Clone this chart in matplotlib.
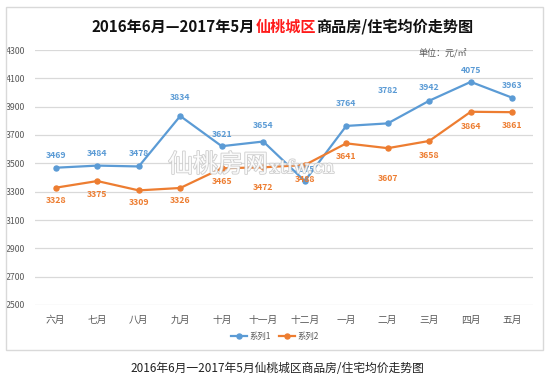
import matplotlib
matplotlib.use("Agg")
import matplotlib.pyplot as plt
import matplotlib.patheffects as pe
from matplotlib.patches import Rectangle

plt.rcParams['font.family'] = ['Noto Sans CJK SC', 'DejaVu Sans']

months = ['六月', '七月', '八月', '九月', '十月', '十一月', '十二月', '一月', '二月', '三月', '四月', '五月']
series1 = [3469, 3484, 3478, 3834, 3621, 3654, 3375, 3764, 3782, 3942, 4075, 3963]
series2 = [3328, 3375, 3309, 3326, 3465, 3472, 3488, 3641, 3607, 3658, 3864, 3861]
series_names = ['系列1', '系列2']
yticks = list(range(2500, 4301, 200))

title_parts = [('2016年6月—2017年5月', '#111111'), ('仙桃城区', '#ff1a1a'), ('商品房/住宅均价走势图', '#111111')]
unit_text = '单位：元/㎡'
caption = '2016年6月一2017年5月仙桃城区商品房/住宅均价走势图'

# label offsets in pixels (style)
off1 = [12, 12, 13, 19, 12, 16, 12, 22, 33, 13, 11, 12]
off2 = [13, 13, 12, 13, 13, 20, 14, 13, 30, 15, 15, 13]

c1 = '#5B9BD5'
c2 = '#ED7D31'

W, H = 554, 385
fig = plt.figure(figsize=(W / 100, H / 100), dpi=100)
fig.patch.set_facecolor('white')

# outer frame
fig.patches.append(Rectangle((6 / W, 1 - 350 / H), (543 - 6) / W, (350 - 7) / H,
                             transform=fig.transFigure, facecolor='none',
                             edgecolor='#d9d9d9', linewidth=1.0))

ax = fig.add_axes([35 / W, 1 - 305 / H, (533 - 35) / W, (305 - 50) / H])
x = list(range(len(months)))
ax.set_xlim(-0.5, len(months) - 0.5)
ax.set_ylim(2500, 4300)
ax.set_yticks(yticks)
ax.set_xticks(x)
ax.set_xticklabels(months)
for s in ax.spines.values():
    s.set_visible(False)
ax.grid(axis='y', color='#d9d9d9', linewidth=0.9)
ax.set_axisbelow(True)
ax.tick_params(axis='both', length=0, colors='#595959', labelsize=6.3)
ax.tick_params(axis='y', pad=7)
ax.tick_params(axis='x', pad=7, labelsize=7)

ax.plot(x, series1, color=c1, linewidth=1.6, marker='o', markersize=3.6, label=series_names[0], zorder=3)
ax.plot(x, series2, color=c2, linewidth=1.6, marker='o', markersize=3.6, label=series_names[1], zorder=3)

for i, v in enumerate(series1):
    ax.annotate(str(v), (i, v), xytext=(0, off1[i]), textcoords='offset pixels',
                ha='center', va='center', fontsize=6.3, color=c1, fontweight='bold', zorder=4)
for i, v in enumerate(series2):
    ax.annotate(str(v), (i, v), xytext=(0, -off2[i]), textcoords='offset pixels',
                ha='center', va='center', fontsize=6.3, color=c2, fontweight='bold', zorder=4)

leg = fig.legend(loc='center', bbox_to_anchor=(275 / W, 1 - 336 / H), ncol=2, frameon=False,
                 fontsize=6, handlelength=2.0, columnspacing=0.9, handletextpad=0.3,
                 labelcolor='#595959')

# watermark
wm = fig.text(218 / W, 1 - 165 / H, '仙桃房网', fontsize=18, color='white', alpha=0.9,
              ha='center', va='center', zorder=10)
wm.set_path_effects([pe.withStroke(linewidth=1.2, foreground='#c8c8c8')])
wm2 = fig.text(302 / W, 1 - 168 / H, 'xtfw.cn', fontsize=13, color='white', alpha=0.9,
               family='DejaVu Serif', ha='center', va='center', zorder=10)
wm2.set_path_effects([pe.withStroke(linewidth=1.2, foreground='#c8c8c8')])

# title with red segment
fig.canvas.draw()
r = fig.canvas.get_renderer()
texts = []
for s, col in title_parts:
    t = fig.text(0, 1 - 27 / H, s, fontsize=10.9, fontweight='bold', color=col, va='center', ha='left')
    texts.append(t)
widths = [t.get_window_extent(renderer=r).width for t in texts]
total = sum(widths)
start = (92.7 + 472) / 2 - total / 2
for t, w in zip(texts, widths):
    t.set_x(start / W)
    start += w

fig.text(443 / W, 1 - 54 / H, unit_text, fontsize=6.5, color='#595959', ha='center', va='center')
fig.text(277 / W, 1 - 368 / H, caption, fontsize=8.5, color='#222222', ha='center', va='center')

fig.savefig('out.png', dpi=100)
